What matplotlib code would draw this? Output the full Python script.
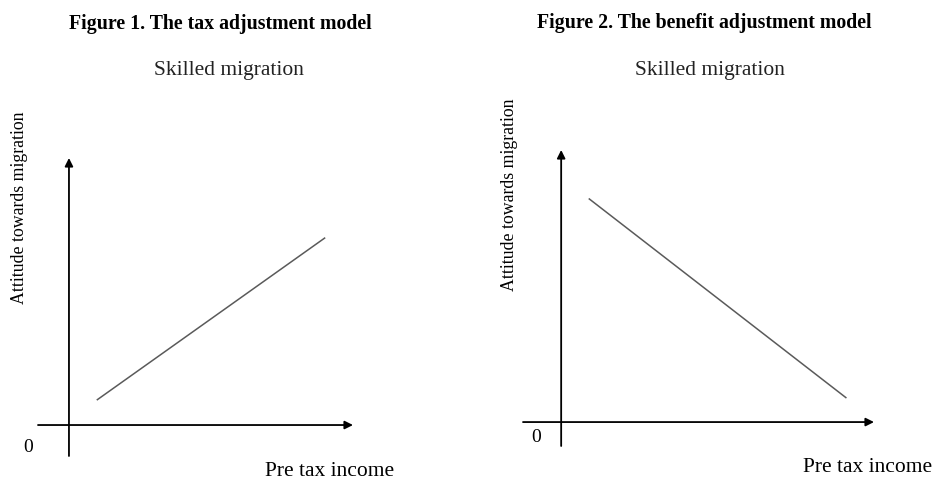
import matplotlib
matplotlib.use("Agg")
import matplotlib.pyplot as plt

# panel titles and labels
titles = ["Figure 1. The tax adjustment model", "Figure 2. The benefit adjustment model"]
subtitle = "Skilled migration"
x_label = "Pre tax income"
y_label = "Attitude towards migration"

# schematic lines (abstract units, axis arrow tips at 10)
tax_income = [1.0, 9.0]
tax_attitude = [0.95, 7.0]
benefit_income = [0.9, 9.1]
benefit_attitude = [8.2, 0.9]

W, H = 933, 480
plt.rcParams['font.family'] = ['Liberation Serif', 'DejaVu Serif']

fig = plt.figure(figsize=(W / 100, H / 100), dpi=100)


def px_axes(x0, y_top, x1, y_bot):
    """axes box given in pixel coords of the picture (y down)"""
    return fig.add_axes([x0 / W, (H - y_bot) / H, (x1 - x0) / W, (y_bot - y_top) / H])


def draw_panel(box, xmin, ymin, xs, ys):
    ax = px_axes(*box)
    ax.set_xlim(xmin, 10)
    ax.set_ylim(ymin, 10)
    ax.axis('off')
    arrow = dict(arrowstyle='-|>', color='black', lw=1.3, mutation_scale=12,
                 shrinkA=0, shrinkB=0)
    ax.annotate('', xy=(10, 0), xytext=(xmin, 0), arrowprops=arrow)
    ax.annotate('', xy=(0, 10), xytext=(0, ymin), arrowprops=arrow)
    ax.plot(xs, ys, color='#5a5a5a', lw=1.1)
    return ax


# left panel: origin (69, 425), arrow tips x=353, y=158
draw_panel((38, 158, 353, 456), -1.09, -1.16, tax_income, tax_attitude)
# right panel: origin (561, 422), arrow tips x=874, y=150
draw_panel((523, 150, 874, 446), -1.22, -0.88, benefit_income, benefit_attitude)


def px_text(x, y, s, **kw):
    fig.text(x / W, (H - y) / H, s, **kw)


px_text(220, 24, titles[0], ha='center', va='center', fontsize=14.3, fontweight='bold')
px_text(704, 23, titles[1], ha='center', va='center', fontsize=14.3, fontweight='bold')

for cx in (229, 710):
    px_text(cx, 70, subtitle, ha='center', va='center', fontsize=15.5, color='#222222')

px_text(330, 472, x_label, ha='center', va='center', fontsize=15.5)
px_text(868, 468, x_label, ha='center', va='center', fontsize=15.5)

px_text(28, 448, "0", ha='center', va='center', fontsize=14)
px_text(536, 438, "0", ha='center', va='center', fontsize=14)

px_text(20, 208, y_label, ha='center', va='center', rotation=90, fontsize=12.8)
px_text(509, 195, y_label, ha='center', va='center', rotation=90, fontsize=12.8)

fig.savefig("out.png", dpi=100, facecolor='white')
